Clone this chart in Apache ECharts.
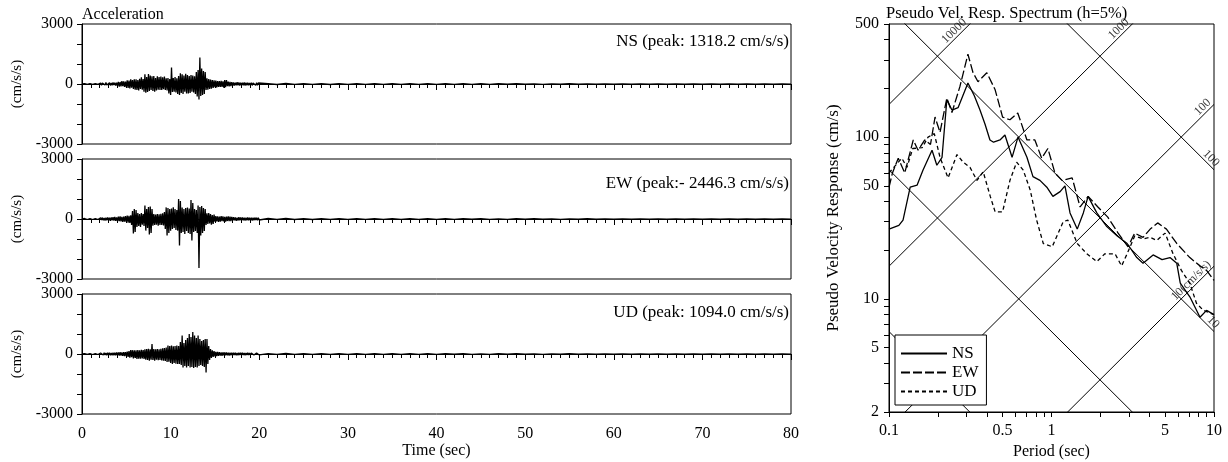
<!DOCTYPE html>
<html><head><meta charset="utf-8">
<script src="https://cdn.jsdelivr.net/npm/echarts@6/dist/echarts.min.js"></script>
<style>html,body{margin:0;padding:0;background:#fff}#c{width:1228px;height:462px}</style>
</head><body><div id="c"></div>
<script>
// ---------------- DATA ----------------
// Acceleration records: dense samples every 0.1 s from 0 to 20 s, then tail every 1 s from 21 to 80 s
const denseStep = 0.1;
const tailStart = 21;
const tailStep = 1;

const nsDense = [
  0,15,-10,20,-15,10,-20,15,-10,20,-15,25,-20,15,-25,20,-15,25,-20,30,
  -40,50,-60,45,-55,60,-50,70,-45,55,-65,60,-70,50,-60,75,-55,65,-80,70,
  -90,110,-130,100,-120,140,-110,130,-150,120,
  -160,180,-200,170,-220,240,-180,200,-250,230,
  -280,230,-300,200,-320,260,-250,330,-290,250,
  -380,480,-430,350,-400,500,-350,420,-300,380,
  -350,400,-380,300,-320,380,-280,350,-300,370,
  -300,330,-260,370,-300,280,-320,300,-470,250,
  -550,830,-400,300,-380,350,-420,280,-500,400,
  -550,530,-450,480,-500,420,-380,510,-470,450,
  -470,400,-450,450,-380,420,-420,380,-500,600,
  -630,700,-770,1318.2,-600,780,-550,650,-500,600,
  -300,280,-280,250,-250,220,-230,200,-200,180,
  -160,170,-170,150,-150,140,-140,160,-150,130,
  -180,200,-160,190,-110,120,-120,100,-100,90,
  -90,80,-80,70,-70,90,-60,80,-80,70,
  -70,60,-60,80,-80,70,-70,60,-60,50,
  -60,70,-70,50,-50,60,-60,70,-60,50,-50
];
const nsTail = [
  20,-25,25,-20,20,-15,20,-25,15,-20,
  20,-15,20,-15,15,-20,15,-15,20,-15,
  15,-15,15,-15,15,-15,15,-10,15,-10,
  10,-15,10,-10,15,-10,10,-10,10,-10,
  10,-10,10,-10,10,-10,10,-10,10,-10,
  10,-10,10,-10,10,-10,10,-10,10,-10
];

const ewDense = [
  0,20,-15,25,-20,15,-25,20,-15,25,-20,30,-25,20,-30,25,-20,30,-25,35,
  -40,60,-50,70,-60,50,-80,70,-60,80,-70,60,-90,80,-70,90,-80,100,-90,80,
  -100,120,-110,130,-120,110,-140,120,-130,150,
  -150,170,-180,160,-200,180,-300,400,-720,500,
  -650,450,-400,300,-350,250,-400,300,-280,250,
  -350,670,-580,500,-450,600,-780,620,-700,500,
  -330,250,-300,220,-280,250,-330,240,-300,260,
  -300,280,-320,350,-500,580,-830,550,-700,500,
  -580,520,-500,580,-450,500,-550,450,-580,1000,
  -1330,900,-700,580,-650,500,-750,550,-600,580,
  -700,520,-750,950,-1080,800,-650,500,-600,450,
  -700,670,-2446.3,600,-830,650,-700,550,-600,500,
  -300,280,-250,300,-220,250,-280,200,-250,220,
  -130,140,-120,130,-150,120,-130,140,-110,130,
  -120,110,-130,120,-100,130,-110,120,-100,110,
  -80,90,-70,80,-90,70,-80,90,-70,80,
  -70,80,-60,70,-80,60,-70,80,-60,70,
  -70,60,-80,70,-60,70,-50,60,-70,60,-50
];
const ewTail = [
  25,-20,25,-25,20,-25,20,-15,20,-20,
  15,-20,20,-15,20,-15,15,-20,15,-15,
  15,-15,15,-10,15,-15,10,-15,15,-10,
  15,-10,10,-15,10,-10,15,-10,10,-10,
  10,-10,10,-10,10,-10,10,-10,10,-10,
  10,-10,10,-10,10,-10,10,-10,10,-10
];

const udDense = [
  0,15,-10,20,-15,10,-20,15,-10,20,-15,20,-25,15,-20,25,-15,20,-25,20,
  -40,50,-45,55,-50,60,-55,50,-60,65,-55,60,-70,55,-65,70,-60,65,-70,75,
  -70,80,-75,90,-80,85,-95,90,-100,95,
  -110,120,-150,140,-180,200,-160,190,-220,180,
  -200,180,-250,200,-230,190,-240,210,-220,200,
  -250,230,-280,250,-300,260,-330,240,-290,500,
  -300,250,-330,230,-280,250,-310,240,-300,260,
  -320,280,-330,300,-350,320,-400,420,-380,400,
  -450,420,-500,380,-450,400,-480,420,-500,400,
  -500,600,-550,920,-670,550,-600,700,-670,800,
  -600,1000,-670,850,-650,1094.0,-700,920,-650,800,
  -670,920,-600,750,-550,650,-600,700,-650,750,
  -920,750,-500,400,-300,250,-200,180,-150,140,
  -120,110,-100,100,-90,90,-85,80,-90,85,
  -70,80,-65,75,-70,60,-75,65,-60,70,
  -60,70,-55,65,-60,55,-65,60,-50,60,
  -55,60,-50,55,-60,50,-55,60,-50,55,
  -50,55,-45,50,-55,45,-50,55,-45,50,-45
];
const udTail = [
  20,-20,25,-20,15,-20,20,-15,20,-15,
  15,-20,15,-15,20,-15,15,-15,15,-15,
  15,-10,15,-15,10,-15,15,-10,15,-10,
  10,-15,10,-10,15,-10,10,-10,10,-10,
  10,-10,10,-10,10,-10,10,-10,10,-10,
  10,-10,10,-10,10,-10,10,-10,10,-10
];

const peakLabels = ['NS (peak: 1318.2 cm/s/s)', 'EW (peak:- 2446.3 cm/s/s)', 'UD (peak: 1094.0 cm/s/s)'];

// Pseudo velocity response spectra (period s, Sv cm/s)
const nsT  = [0.1,0.115,0.122,0.135,0.149,0.162,0.184,0.197,0.212,0.227,0.244,0.266,0.306,0.335,0.363,0.39,0.418,0.44,0.482,0.517,0.572,0.622,0.706,0.769,0.849,0.936,1.02,1.13,1.21,1.30,1.44,1.57,1.68,1.90,2.19,2.54,2.92,3.35,3.66,4.22,4.79,5.36,5.9,6.2,7.1,8.2,9.0,10];
const nsSv = [27,28.5,30.7,49,50.5,62.6,83,67,75,170,147,152,216,180,147,120,96,93,96,103,75,100,75,57,54,49,43,46,50,34,27,34,43,34,28,24.5,22,18,16.6,18.7,17.5,18,16.6,12.5,10.3,7.7,8.5,8];
const ewT  = [0.1,0.105,0.114,0.125,0.141,0.151,0.166,0.18,0.192,0.206,0.227,0.244,0.273,0.306,0.329,0.353,0.40,0.45,0.50,0.555,0.62,0.706,0.79,0.87,0.95,1.05,1.16,1.34,1.50,1.68,1.93,2.22,2.57,2.96,3.25,3.66,4.05,4.5,5.1,5.9,7.1,8.2,9.0,10];
const ewSv = [49,60,74,60,96,83,96,90,133,107,174,142,205,325,250,220,250,196,133,128,141,96,96,74,85,60,54,56,37,43,37,32,25.5,21,25.5,24,27,29.5,27,22,18,16,15,13];
const udT  = [0.1,0.107,0.12,0.129,0.14,0.16,0.174,0.19,0.206,0.231,0.262,0.286,0.315,0.348,0.38,0.42,0.45,0.50,0.555,0.61,0.67,0.74,0.81,0.89,1.01,1.10,1.18,1.26,1.44,1.65,1.90,2.13,2.46,2.70,2.92,3.25,3.66,4.05,4.45,5.0,5.6,6.3,7.1,7.8,8.6,10];
const udSv = [60,65,74,65,85,86,100,105,75,56,78,70,65,54,61,43,34.5,34.5,54,70,62.5,47,30.7,22,21,25.5,30,30.7,22,19,17,19,19,16,19,24.5,23.5,24,23,25.5,19,15,12.5,9.4,8.5,8];

const periodTickLabels = [0.1, 0.5, 1, 5, 10];
const periodTicks = [0.1,0.2,0.3,0.4,0.5,0.6,0.7,0.8,0.9,1,2,3,4,5,6,7,8,9,10];
const velTickLabels = [2, 5, 10, 50, 100, 500];
const velTicks = [2,3,4,5,6,7,8,9,10,20,30,40,50,60,70,80,90,100,200,300,400,500];

// Tripartite grid: constant pseudo-acceleration (cm/s/s) and displacement (cm)
const accelLines = [10, 100, 1000, 10000];
const accelLineLabels = ['10(cm/s/s)', '100', '1000', '10000'];
const dispLines = [0.1, 1, 10, 100];
const dispLineLabels = ['', '', '10', '100'];

// ---------------- CHART ----------------
const FONT = '"Liberation Serif","Times New Roman",serif';
const TWO_PI = 2 * Math.PI;
const T_MIN = 0.1, T_MAX = 10, SV_MIN = 2, SV_MAX = 500;

function buildTrace(dense, tail) {
  const pts = [];
  dense.forEach((v, i) => pts.push([Math.round(i * denseStep * 10) / 10, v]));
  tail.forEach((v, i) => pts.push([tailStart + i * tailStep, v]));
  return pts;
}
const traces = [buildTrace(nsDense, nsTail), buildTrace(ewDense, ewTail), buildTrace(udDense, udTail)];

const W = 1228, Hh = 462;
const specGrid = { left: 889, right: 14, top: 24, bottom: 50 };
const specW = W - specGrid.left - specGrid.right;
const specH = Hh - specGrid.top - specGrid.bottom;
const pxX = specW / Math.log10(T_MAX / T_MIN);
const pxY = specH / Math.log10(SV_MAX / SV_MIN);
const theta = Math.atan2(pxY, pxX);
const rotDeg = theta * 180 / Math.PI;

const LABEL_FS = 12;
const mctx = document.createElement('canvas').getContext('2d');
mctx.font = LABEL_FS + 'px "Liberation Serif"';
const textLen = s => mctx.measureText(s).width;

const tripartiteSeries = [];
const tripLabelItems = [];
accelLines.forEach((sa, i) => {
  const f = T => sa * T / TWO_PI;
  tripartiteSeries.push([[T_MIN, f(T_MIN)], [T_MAX, f(T_MAX)]]);
  const lbl = accelLineLabels[i];
  if (lbl) {
    const Te = f(T_MAX) > SV_MAX ? SV_MAX * TWO_PI / sa : T_MAX;
    const d = textLen(lbl) / 2 + 1;
    const T = Te * Math.pow(10, -d * Math.cos(theta) / pxX);
    tripLabelItems.push({ value: [T, f(T)], label: { formatter: lbl, rotate: rotDeg } });
  }
});
dispLines.forEach((dd, i) => {
  const g = T => TWO_PI * dd / T;
  tripartiteSeries.push([[T_MIN, g(T_MIN)], [T_MAX, g(T_MAX)]]);
  const lbl = dispLineLabels[i];
  if (lbl) {
    const Te = g(T_MAX) >= SV_MIN ? T_MAX : TWO_PI * dd / SV_MIN;
    const d = textLen(lbl) / 2 + 1;
    const T = Te * Math.pow(10, -d * Math.cos(theta) / pxX);
    tripLabelItems.push({ value: [T, g(T)], label: { formatter: lbl, rotate: -rotDeg } });
  }
});

const black = '#000';
const panelTops = [24, 159, 294];
const panelH = 120;
const leftGridL = 82, leftGridR = W - 791;
const TICK_FS = 16, NAME_FS = 16;

const gridBase = { show: true, borderColor: black, borderWidth: 1, backgroundColor: 'transparent', containLabel: false, outerBoundsMode: 'none' };
const grids = panelTops.map(t => Object.assign({ left: leftGridL, right: leftGridR, top: t, height: panelH }, gridBase));
grids.push(Object.assign({}, gridBase, specGrid));

const xAxes = panelTops.map((t, i) => ({
  type: 'value', gridIndex: i, min: 0, max: 80, interval: 10,
  axisLine: { show: true, lineStyle: { color: black, width: 1 } },
  axisTick: { show: true, length: 6, lineStyle: { color: black } },
  minorTick: { show: true, splitNumber: 10, length: 4, lineStyle: { color: black } },
  splitLine: { show: false }, minorSplitLine: { show: false },
  axisLabel: { show: i === 2, color: black, fontSize: TICK_FS, fontFamily: FONT, margin: 12 },
  name: i === 2 ? 'Time (sec)' : '', nameLocation: 'middle', nameGap: 24,
  nameTextStyle: { color: black, fontSize: NAME_FS, fontFamily: FONT }
}));
xAxes.push({
  type: 'log', logBase: 10, gridIndex: 3, min: T_MIN, max: T_MAX,
  axisLine: { show: true, lineStyle: { color: black, width: 1 } },
  axisTick: { show: true, length: 5, customValues: periodTicks, lineStyle: { color: black } },
  axisLabel: { show: true, customValues: periodTickLabels, color: black, fontSize: TICK_FS, fontFamily: FONT, margin: 11, formatter: v => String(v) },
  splitLine: { show: false },
  name: 'Period (sec)', nameLocation: 'middle', nameGap: 25,
  nameTextStyle: { color: black, fontSize: NAME_FS, fontFamily: FONT }
});

const yAxes = panelTops.map((t, i) => ({
  type: 'value', gridIndex: i, min: -3000, max: 3000, interval: 3000,
  axisLine: { show: true, lineStyle: { color: black, width: 1 } },
  axisTick: { show: true, length: 5, lineStyle: { color: black } },
  minorTick: { show: true, splitNumber: 3, length: 5, lineStyle: { color: black } },
  splitLine: { show: false }, minorSplitLine: { show: false },
  axisLabel: { show: true, color: black, fontSize: TICK_FS, fontFamily: FONT, margin: 9, formatter: v => String(v) },
  name: '(cm/s/s)', nameLocation: 'middle', nameGap: 53, nameRotate: 90,
  nameTextStyle: { color: black, fontSize: 15, fontFamily: FONT }
}));
yAxes.push({
  type: 'log', logBase: 10, gridIndex: 3, min: SV_MIN, max: SV_MAX,
  axisLine: { show: true, lineStyle: { color: black, width: 1 } },
  axisTick: { show: true, length: 5, customValues: velTicks, lineStyle: { color: black } },
  axisLabel: { show: true, customValues: velTickLabels, color: black, fontSize: TICK_FS, fontFamily: FONT, margin: 10, formatter: v => String(v) },
  splitLine: { show: false },
  name: 'Pseudo Velocity Response (cm/s)', nameLocation: 'middle', nameGap: 47, nameRotate: 90,
  nameTextStyle: { color: black, fontSize: 17, fontFamily: FONT }
});

const series = [];
traces.forEach((tr, i) => {
  series.push({ type: 'line', xAxisIndex: i, yAxisIndex: i, data: tr, symbol: 'none', showSymbol: false,
    lineStyle: { color: black, width: 1.3 }, silent: true, z: 3 });
});
tripartiteSeries.forEach(d => {
  series.push({ type: 'line', xAxisIndex: 3, yAxisIndex: 3, data: d, symbol: 'none', showSymbol: false,
    lineStyle: { color: black, width: 1 }, silent: true, z: 2 });
});
series.push({ type: 'scatter', xAxisIndex: 3, yAxisIndex: 3, data: tripLabelItems, symbolSize: 1,
  itemStyle: { color: 'rgba(0,0,0,0)' }, silent: true, z: 2,
  label: { show: true, position: 'inside', align: 'center', verticalAlign: 'bottom', color: black, fontSize: LABEL_FS, fontFamily: FONT } });

const zip = (a, b) => a.map((v, i) => [v, b[i]]);
const specStyle = (type) => ({ color: black, width: 1.3, type: type });
series.push({ name: 'NS', type: 'line', xAxisIndex: 3, yAxisIndex: 3, data: zip(nsT, nsSv), symbol: 'none', showSymbol: false,
  lineStyle: specStyle('solid'), itemStyle: { color: black }, z: 3 });
series.push({ name: 'EW', type: 'line', xAxisIndex: 3, yAxisIndex: 3, data: zip(ewT, ewSv), symbol: 'none', showSymbol: false,
  lineStyle: specStyle([9, 3]), itemStyle: { color: black }, z: 3 });
series.push({ name: 'UD', type: 'line', xAxisIndex: 3, yAxisIndex: 3, data: zip(udT, udSv), symbol: 'none', showSymbol: false,
  lineStyle: specStyle([4, 3]), itemStyle: { color: black }, z: 3 });

const graphic = [
  { type: 'text', left: leftGridL, top: 7, style: { text: 'Acceleration', font: '16px ' + FONT, fill: black } },
  { type: 'text', left: 886, top: 5, style: { text: 'Pseudo Vel. Resp. Spectrum (h=5%)', font: '16.5px ' + FONT, fill: black } }
];
const annotOffsets = [18, 25, 19];
peakLabels.forEach((s, i) => {
  graphic.push({ type: 'text', x: 789, y: panelTops[i] + annotOffsets[i],
    style: { text: s, font: '17px ' + FONT, fill: black, textAlign: 'right', textVerticalAlign: 'middle' } });
});

const option = {
  animation: false,
  backgroundColor: '#fff',
  textStyle: { fontFamily: FONT },
  grid: grids,
  xAxis: xAxes,
  yAxis: yAxes,
  legend: {
    data: ['NS', 'EW', 'UD'], orient: 'vertical', left: 895, top: 335,
    itemWidth: 46, itemHeight: 14, itemGap: 2, padding: [10, 8, 5, 5],
    backgroundColor: '#fff', borderColor: black, borderWidth: 1, borderRadius: 0,
    itemStyle: { opacity: 0, borderWidth: 0 },
    textStyle: { color: black, fontSize: 17, fontFamily: FONT, lineHeight: 17 }, selectedMode: false
  },
  graphic: graphic,
  series: series
};
const chart = echarts.init(document.getElementById('c'), null, { renderer: 'canvas' });
chart.setOption(option);
</script></body></html>
